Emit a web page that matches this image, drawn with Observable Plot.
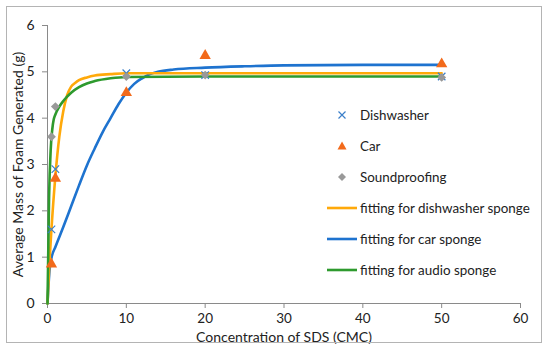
<!DOCTYPE html>
<html><head><meta charset="utf-8">
<script src="https://cdn.jsdelivr.net/npm/d3@7"></script>
<script src="https://cdn.jsdelivr.net/npm/@observablehq/plot@0.6"></script>
<style>
body{margin:0;background:#fff;font-family:Lato,"Open Sans",sans-serif;}
#wrap{position:relative;width:550px;height:351px;}
#border{position:absolute;left:6px;top:6px;width:534px;height:335px;border:1px solid #b4b4b4;pointer-events:none;}
#legend{position:absolute;left:326px;top:99px;font-size:13.4px;color:#222;}
#legend .it{height:31px;display:flex;align-items:center;}
#legend svg{width:32px;height:14px;margin-right:2px;}
</style></head>
<body><div id="wrap"><div id="border"></div><div id="chart"></div><div id="legend"></div></div>
<script>
// Measured data
const concentration = [0.5, 1, 10, 20, 50];
const dishwasher = [1.6, 2.9, 4.97, 4.93, 4.9];
const car = [0.85, 2.7, 4.55, 5.35, 5.17];
const soundproofing = [3.6, 4.25, 4.9, 4.93, 4.88];

// Fitted curves
const fitDishX = [0, 0.25, 0.5, 1, 1.5, 2, 2.5, 3, 3.5, 4, 5, 6, 8, 10, 20, 50];
const fitDishY = [0, 0.9, 1.6, 2.75, 3.6, 4.15, 4.5, 4.68, 4.76, 4.82, 4.88, 4.92, 4.95, 4.97, 4.97, 4.97];
const fitCarX = [0, 0.25, 0.5, 1, 2, 3, 4, 5, 6, 7, 8, 9, 10, 11, 12, 13, 14, 16, 20, 25, 30, 40, 50];
const fitCarY = [0, 0.7, 0.98, 1.22, 1.65, 2.1, 2.55, 2.98, 3.35, 3.7, 4.0, 4.3, 4.55, 4.74, 4.86, 4.95, 5.0, 5.05, 5.09, 5.12, 5.14, 5.15, 5.15];
const fitAudioX = [0, 0.2, 0.4, 0.6, 0.8, 1, 1.5, 2, 3, 4, 5, 6, 8, 10, 20, 50];
const fitAudioY = [0, 2.3, 3.3, 3.75, 3.98, 4.08, 4.25, 4.37, 4.55, 4.67, 4.75, 4.8, 4.86, 4.89, 4.9, 4.9];

const xTicks = [0, 10, 20, 30, 40, 50, 60];
const yTicks = [0, 1, 2, 3, 4, 5, 6];

const cOrange = "#FFA90A", cBlue = "#1E73CF", cGreen = "#2E9A2E";
const mBlue = "#3B7FC9", mOrange = "#F26A1B", mGray = "#999999";

const pts = (xs, ys) => xs.map((x, i) => ({x, y: ys[i]}));

const chart = Plot.plot({
  width: 550, height: 351,
  marginLeft: 47, marginRight: 30, marginTop: 25, marginBottom: 48,
  style: {fontFamily: "Lato, 'Open Sans', sans-serif", fontSize: "14px", color: "#222", background: "transparent"},
  x: {domain: [0, 60], ticks: xTicks},
  y: {domain: [0, 6], ticks: yTicks},
  marks: [
    Plot.ruleY([0], {stroke: "#8a8a8a"}),
    Plot.ruleX([0], {stroke: "#8a8a8a"}),
    Plot.axisX({ticks: xTicks, tickFormat: d3.format("d"), tickSize: 5, tickPadding: 5, stroke: "#8a8a8a", fontSize: 13.5, fill: "#222",
      label: null}),
    Plot.axisX({ticks: [], label: "Concentration of SDS (CMC)", labelAnchor: "center", labelArrow: "none", labelOffset: 38, fontSize: 14, fill: "#222"}),
    Plot.axisY({ticks: yTicks, tickFormat: d3.format("d"), tickSize: 5, tickPadding: 8, stroke: "#8a8a8a", fontSize: 14, fill: "#222",
      label: "Average Mass of Foam Generated (g)", labelAnchor: "center", labelArrow: "none", labelOffset: 34}),
    Plot.line(pts(fitCarX, fitCarY), {x: "x", y: "y", stroke: cBlue, strokeWidth: 2.6, curve: "monotone-x"}),
    Plot.line(pts(fitDishX, fitDishY), {x: "x", y: "y", stroke: cOrange, strokeWidth: 2.6, curve: "monotone-x"}),
    Plot.line(pts(fitAudioX, fitAudioY), {x: "x", y: "y", stroke: cGreen, strokeWidth: 2.6, curve: "monotone-x"}),
    Plot.dot(pts(concentration, dishwasher), {x: "x", y: "y", symbol: "times", stroke: mBlue, r: 3.5, strokeWidth: 1.2}),
    Plot.dot(pts(concentration, car), {x: "x", y: "y", symbol: "triangle", fill: mOrange, r: 4.2}),
    Plot.dot(pts(concentration, soundproofing), {x: "x", y: "y", symbol: "diamond2", fill: mGray, r: 4}),
  ]
});
document.getElementById("chart").appendChild(chart);

// Legend
const legendItems = [
  {label: "Dishwasher", kind: "times", color: mBlue},
  {label: "Car", kind: "triangle", color: mOrange},
  {label: "Soundproofing", kind: "diamond", color: mGray},
  {label: "fitting for dishwasher sponge", kind: "line", color: cOrange},
  {label: "fitting for car sponge", kind: "line", color: cBlue},
  {label: "fitting for audio sponge", kind: "line", color: cGreen},
];
const leg = document.getElementById("legend");
for (const it of legendItems) {
  let sym;
  if (it.kind === "line") sym = `<line x1="1" x2="31" y1="7" y2="7" stroke="${it.color}" stroke-width="2.6"/>`;
  else if (it.kind === "times") sym = `<path d="M12.5,3.5L19.5,10.5M19.5,3.5L12.5,10.5" stroke="${it.color}" stroke-width="1.2" fill="none"/>`;
  else if (it.kind === "triangle") sym = `<path d="M16,2.5L20.5,10.5L11.5,10.5Z" fill="${it.color}"/>`;
  else sym = `<path d="M16,3L20,7L16,11L12,7Z" fill="${it.color}"/>`;
  const d = document.createElement("div");
  d.className = "it";
  d.innerHTML = `<svg viewBox="0 0 32 14">${sym}</svg><span>${it.label}</span>`;
  leg.appendChild(d);
}
</script></body></html>
